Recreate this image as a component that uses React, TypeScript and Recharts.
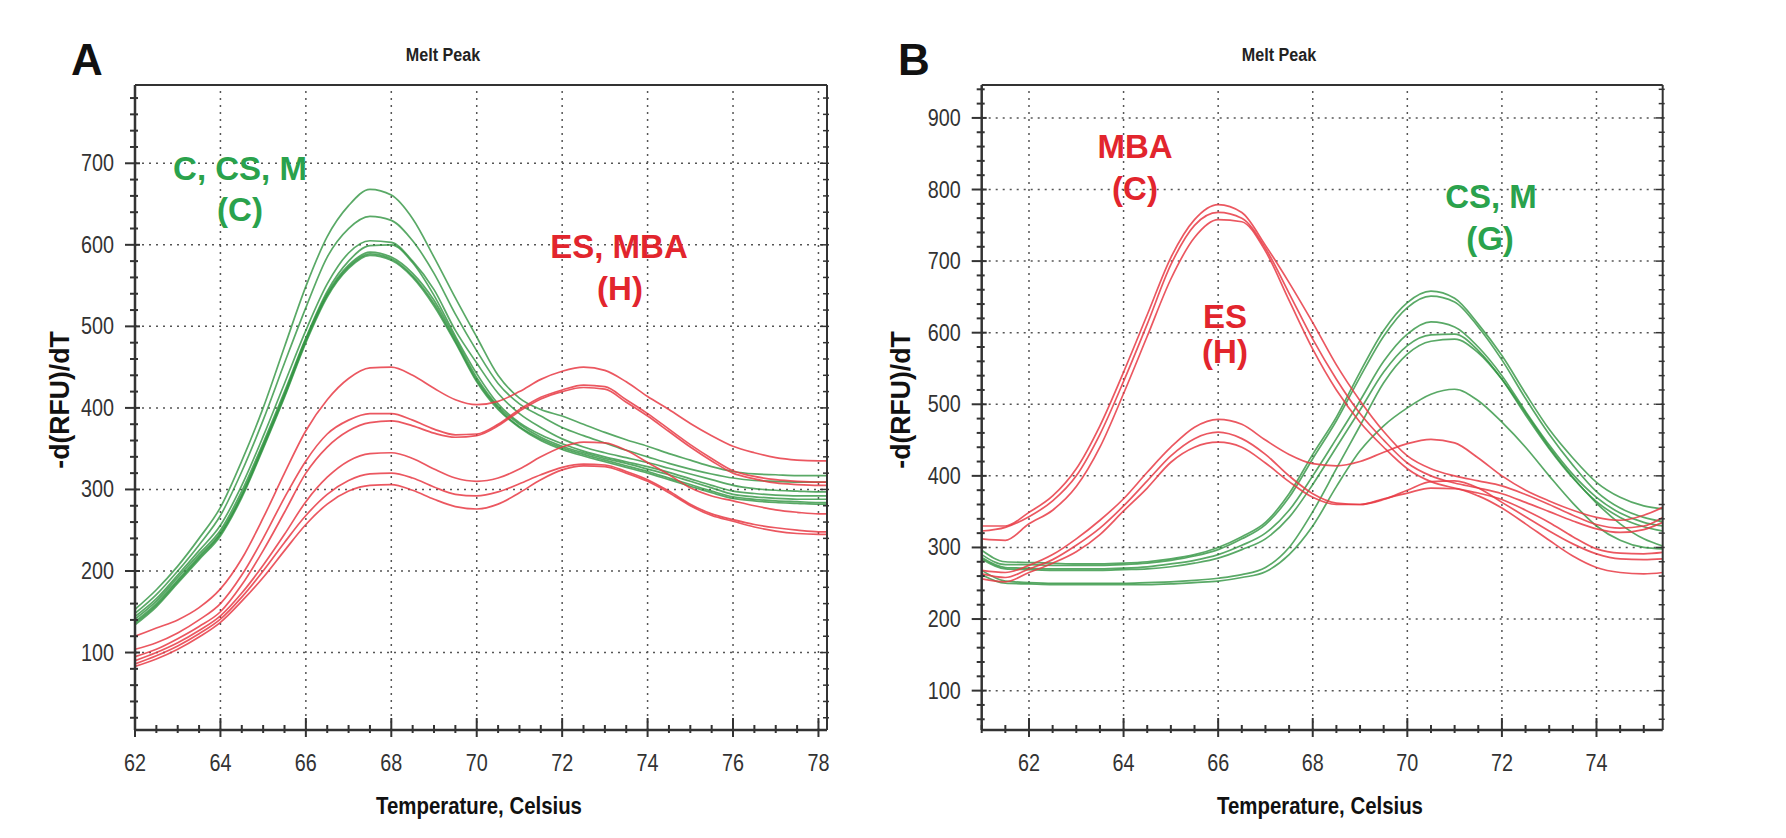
import React from 'react';
import { LineChart, Line, XAxis, YAxis, ReferenceLine } from 'recharts';

// ---- Panel A: temperatures (°C) ----
const tempsA = [62, 62.5, 63, 63.5, 64, 64.5, 65, 65.5, 66, 66.5, 67, 67.5, 68, 68.5, 69, 69.5, 70, 70.5, 71, 71.5, 72, 72.5, 73, 73.5, 74, 74.5, 75, 75.5, 76, 76.5, 77, 77.5, 78, 78.2];

// green traces (C, CS, M)
const greenA1 = [153, 177, 206, 240, 278, 335, 400, 475, 549, 610, 648, 668, 661, 632, 585, 535, 487, 440, 412, 398, 390, 380, 370, 361, 353, 344, 336, 328, 322, 319, 318, 317, 317, 317];
const greenA2 = [148, 171, 200, 232, 268, 322, 385, 455, 523, 585, 620, 635, 630, 605, 565, 515, 470, 430, 405, 390, 376, 366, 357, 348, 340, 332, 325, 319, 314, 311, 310, 309, 309, 309];
const greenA3 = [144, 166, 195, 225, 256, 305, 365, 430, 495, 552, 590, 605, 603, 580, 545, 495, 455, 418, 393, 376, 362, 352, 345, 339, 333, 326, 319, 312, 305, 301, 299, 298, 297, 297];
const greenA4 = [141, 163, 192, 221, 250, 298, 357, 420, 486, 543, 580, 599, 600, 578, 538, 488, 442, 405, 382, 367, 356, 347, 340, 334, 328, 321, 313, 305, 298, 295, 293, 292, 292, 292];
const greenA5 = [138, 160, 189, 218, 247, 294, 354, 417, 484, 540, 575, 591, 585, 565, 532, 485, 437, 402, 380, 364, 353, 345, 338, 332, 325, 318, 310, 302, 294, 291, 289, 288, 288, 288];
const greenA6 = [136, 158, 187, 216, 245, 292, 352, 415, 482, 538, 573, 589, 583, 562, 528, 482, 434, 400, 377, 362, 351, 343, 336, 329, 322, 314, 306, 298, 291, 288, 286, 285, 284, 284];
const greenA7 = [134, 156, 185, 214, 243, 290, 350, 413, 480, 536, 571, 587, 581, 560, 525, 480, 432, 398, 376, 360, 349, 341, 334, 327, 320, 312, 304, 296, 289, 286, 284, 283, 282, 282];

// red traces (ES, MBA)
const redA1 = [120, 130, 140, 155, 178, 215, 265, 320, 372, 410, 436, 449, 450, 440, 424, 410, 404, 408, 420, 435, 445, 450, 446, 432, 414, 398, 381, 366, 353, 345, 339, 336, 335, 335];
const redA2 = [104, 112, 124, 140, 160, 195, 240, 290, 335, 368, 385, 393, 393, 385, 374, 367, 368, 380, 398, 413, 422, 428, 426, 410, 393, 374, 355, 338, 323, 316, 312, 310, 309, 309];
const redA3 = [95, 104, 117, 132, 150, 183, 225, 272, 320, 352, 372, 382, 384, 378, 369, 364, 366, 378, 396, 411, 420, 425, 423, 407, 390, 371, 352, 335, 320, 313, 308, 306, 305, 305];
const redA4 = [90, 100, 112, 127, 145, 173, 207, 245, 285, 315, 335, 344, 345, 338, 325, 314, 310, 314, 325, 340, 352, 358, 357, 348, 333, 318, 302, 292, 286, 280, 275, 272, 270, 270];
const redA5 = [86, 96, 108, 123, 141, 168, 200, 235, 268, 294, 311, 319, 320, 314, 303, 294, 292, 297, 307, 318, 327, 331, 330, 322, 312, 298, 282, 270, 263, 257, 253, 250, 248, 248];
const redA6 = [83, 92, 104, 119, 137, 163, 192, 225, 257, 282, 298, 305, 306, 299, 288, 279, 276, 282, 296, 312, 324, 329, 328, 320, 310, 296, 280, 268, 261, 254, 249, 246, 245, 245];

// ---- Panel B: temperatures (°C) ----
const tempsB = [61, 61.5, 62, 62.5, 63, 63.5, 64, 64.5, 65, 65.5, 66, 66.5, 67, 67.5, 68, 68.5, 69, 69.5, 70, 70.5, 71, 71.5, 72, 72.5, 73, 73.5, 74, 74.5, 75, 75.4];

// green traces (CS, M)
const greenB1 = [296, 280, 279, 278, 277, 277, 278, 280, 284, 290, 300, 315, 335, 375, 430, 482, 545, 603, 642, 658, 648, 612, 568, 515, 465, 425, 391, 370, 358, 354];
const greenB2 = [290, 276, 276, 275, 275, 275, 276, 278, 282, 288, 297, 312, 332, 370, 424, 477, 538, 595, 635, 651, 643, 608, 562, 508, 458, 415, 378, 355, 342, 336];
const greenB3 = [286, 272, 271, 270, 270, 270, 271, 273, 277, 282, 290, 303, 320, 352, 400, 452, 505, 560, 598, 615, 608, 580, 540, 490, 443, 402, 370, 348, 335, 330];
const greenB4 = [284, 270, 269, 268, 268, 268, 269, 270, 273, 278, 285, 297, 312, 342, 388, 440, 492, 545, 582, 597, 598, 575, 535, 485, 438, 397, 364, 342, 329, 323];
const greenB5 = [268, 253, 251, 250, 250, 250, 250, 251, 252, 254, 257, 262, 272, 300, 350, 410, 470, 530, 570, 588, 591, 572, 535, 488, 440, 398, 362, 333, 312, 302];
const greenB6 = [262, 250, 249, 248, 248, 248, 248, 248, 249, 251, 253, 258, 266, 290, 330, 385, 435, 470, 495, 514, 521, 505, 475, 440, 400, 362, 330, 310, 300, 298];

// red traces: MBA (C) and ES (H)
const mbaB1 = [330, 330, 349, 372, 410, 470, 545, 625, 705, 758, 779, 768, 722, 670, 614, 555, 505, 462, 428, 410, 400, 393, 386, 374, 360, 345, 332, 327, 330, 342];
const mbaB2 = [323, 328, 343, 365, 400, 458, 532, 612, 695, 750, 768, 760, 718, 655, 591, 535, 487, 450, 418, 400, 390, 383, 375, 363, 350, 337, 326, 321, 325, 335];
const mbaB3 = [312, 310, 333, 352, 385, 440, 515, 595, 675, 733, 758, 755, 714, 645, 577, 520, 475, 440, 410, 392, 383, 376, 367, 352, 335, 315, 298, 292, 291, 293];
const esB1 = [268, 265, 275, 290, 312, 338, 368, 405, 440, 468, 479, 472, 450, 430, 417, 414, 420, 433, 445, 451, 446, 425, 400, 380, 365, 352, 342, 338, 345, 356];
const esB2 = [263, 258, 270, 283, 303, 327, 358, 393, 428, 452, 461, 452, 430, 400, 375, 362, 360, 367, 380, 392, 393, 383, 363, 343, 323, 305, 291, 284, 283, 284];
const esB3 = [256, 252, 265, 278, 294, 318, 351, 383, 419, 440, 447, 440, 418, 392, 370, 360, 360, 368, 376, 383, 382, 372, 355, 333, 310, 288, 272, 265, 263, 265];

// tick labels / grid
const xMajorA = [62, 64, 66, 68, 70, 72, 74, 76, 78];
const yMajorA = [100, 200, 300, 400, 500, 600, 700];
const xMajorB = [62, 64, 66, 68, 70, 72, 74];
const yMajorB = [100, 200, 300, 400, 500, 600, 700, 800, 900];

const GREEN = '#2f9440';
const RED = '#e83a44';
const LABEL_GREEN = '#2aa24c';
const LABEL_RED = '#e2252d';
const AXIS = '#333';
const SANS = "'Liberation Sans', Arial, Helvetica, sans-serif";

const steps = (from: number, to: number, step: number) => {
  const out: number[] = [];
  for (let v = from; v <= to + 1e-9; v += step) out.push(Math.round(v * 10) / 10);
  return out;
};

const buildRows = (temps: number[], green: number[][], red: number[][]) =>
  temps.map((t, i) => {
    const row: Record<string, number> = { t };
    green.forEach((s, k) => (row['g' + k] = s[i]));
    red.forEach((s, k) => (row['r' + k] = s[i]));
    return row;
  });

// Arial-like text squeezed horizontally (the original uses a narrow face)
type NTextProps = {
  x: number;
  y: number;
  size: number;
  squeeze?: number;
  anchor?: 'start' | 'middle' | 'end';
  bold?: boolean;
  fill?: string;
  rotate?: number;
  children: React.ReactNode;
};
const NText = ({ x, y, size, squeeze = 0.85, anchor = 'middle', bold = false, fill = '#222', rotate, children }: NTextProps) => (
  <text
    transform={`translate(${x} ${y})${rotate ? ` rotate(${rotate})` : ''} scale(${squeeze} 1)`}
    textAnchor={anchor}
    fontSize={size}
    fontWeight={bold ? 'bold' : 'normal'}
    fontFamily={SANS}
    fill={fill}
  >
    {children}
  </text>
);

type Frame = { left: number; right: number; top: number; bottom: number };

const leftTick = (f: Frame) => (p: any) => {
  const v = p.payload.value;
  const major = v % 100 === 0;
  return (
    <g>
      <line x1={f.left - (major ? 10 : 5)} x2={f.left + (major ? 5 : 3)} y1={p.y} y2={p.y} stroke={AXIS} strokeWidth={2} />
      {major && (
        <NText x={f.left - 21} y={p.y + 8} size={23} squeeze={0.86} anchor="end" fill="#333">
          {v}
        </NText>
      )}
    </g>
  );
};

const rightTick = (f: Frame) => (p: any) => {
  const major = p.payload.value % 100 === 0;
  return <line x1={f.right - (major ? 7 : 4)} x2={f.right + 2} y1={p.y} y2={p.y} stroke={AXIS} strokeWidth={1.5} />;
};

const bottomTick = (f: Frame) => (p: any) => {
  const v = p.payload.value;
  const major = v % 2 === 0;
  return (
    <g>
      <line x1={p.x} x2={p.x} y1={f.bottom - (major ? 12 : 5)} y2={f.bottom + (major ? 7 : 3)} stroke={AXIS} strokeWidth={2} />
      {major && (
        <NText x={p.x} y={f.bottom + 41} size={23} squeeze={0.86} fill="#333">
          {v}
        </NText>
      )}
    </g>
  );
};

const topTick = (f: Frame) => (p: any) => {
  const major = p.payload.value % 2 === 0;
  return <line x1={p.x} x2={p.x} y1={f.top - 1} y2={f.top + (major ? 7 : 5)} stroke={AXIS} strokeWidth={1.5} />;
};

type PanelProps = {
  rows: Record<string, number>[];
  nGreen: number;
  nRed: number;
  xDomain: [number, number];
  yDomain: [number, number];
  xTicks: number[];
  yTicks: number[];
  gridX: number[];
  gridY: number[];
  frame: Frame;
  margin: { top: number; right: number; bottom: number; left: number };
};

const MeltPanel: React.FC<PanelProps> = ({ rows, nGreen, nRed, xDomain, yDomain, xTicks, yTicks, gridX, gridY, frame, margin }) => (
  <LineChart width={893} height={838} data={rows} margin={margin}>
    <XAxis
      dataKey="t"
      type="number"
      domain={xDomain}
      allowDataOverflow
      ticks={xTicks}
      interval={0}
      height={50}
      tick={bottomTick(frame)}
      tickLine={false}
      axisLine={{ stroke: AXIS, strokeWidth: 2.5 }}
    />
    <XAxis
      xAxisId="top"
      orientation="top"
      type="number"
      domain={xDomain}
      allowDataOverflow
      ticks={xTicks}
      interval={0}
      height={10}
      tick={topTick(frame)}
      tickLine={false}
      axisLine={{ stroke: AXIS, strokeWidth: 2 }}
    />
    <YAxis
      type="number"
      domain={yDomain}
      allowDataOverflow
      ticks={yTicks}
      interval={0}
      width={60}
      tick={leftTick(frame)}
      tickLine={false}
      axisLine={{ stroke: AXIS, strokeWidth: 2.5 }}
    />
    <YAxis
      yAxisId="right"
      orientation="right"
      type="number"
      domain={yDomain}
      allowDataOverflow
      ticks={yTicks}
      interval={0}
      width={10}
      tick={rightTick(frame)}
      tickLine={false}
      axisLine={{ stroke: AXIS, strokeWidth: 2 }}
    />
    {gridY.map((v) => (
      <ReferenceLine key={'gy' + v} y={v} stroke="#555" strokeWidth={1.5} strokeDasharray="2 5" />
    ))}
    {gridX.map((v) => (
      <ReferenceLine key={'gx' + v} x={v} stroke="#555" strokeWidth={1.5} strokeDasharray="2 5" />
    ))}
    {Array.from({ length: nGreen }, (_, k) => (
      <Line key={'g' + k} dataKey={'g' + k} type="monotone" stroke={GREEN} strokeOpacity={0.8} strokeWidth={1.7} dot={false} isAnimationActive={false} />
    ))}
    {Array.from({ length: nRed }, (_, k) => (
      <Line key={'r' + k} dataKey={'r' + k} type="monotone" stroke={RED} strokeOpacity={0.85} strokeWidth={1.7} dot={false} isAnimationActive={false} />
    ))}
  </LineChart>
);

const rowsA = buildRows(tempsA, [greenA1, greenA2, greenA3, greenA4, greenA5, greenA6, greenA7], [redA1, redA2, redA3, redA4, redA5, redA6]);
const rowsB = buildRows(tempsB, [greenB1, greenB2, greenB3, greenB4, greenB5, greenB6], [mbaB1, mbaB2, mbaB3, esB1, esB2, esB3]);

const Note = ({ x, y, color, children }: { x: number; y: number; color: string; children: React.ReactNode }) => (
  <text x={x} y={y} textAnchor="middle" fontSize={33} fontWeight="bold" fontFamily={SANS} fill={color}>
    {children}
  </text>
);

const App: React.FC = () => (
  <div style={{ position: 'absolute', left: 0, top: 0, width: 1786, height: 838, background: '#fff', overflow: 'hidden' }}>
    <div style={{ position: 'absolute', left: 0, top: 0 }}>
      <MeltPanel
        rows={rowsA}
        nGreen={7}
        nRed={6}
        xDomain={[62, 78.2]}
        yDomain={[5, 796]}
        xTicks={steps(62, 78, 0.5)}
        yTicks={steps(20, 780, 20)}
        gridX={xMajorA.slice(1)}
        gridY={yMajorA}
        frame={{ left: 135, right: 827, top: 85, bottom: 730 }}
        margin={{ top: 75, right: 56, bottom: 58, left: 75 }}
      />
    </div>
    <div style={{ position: 'absolute', left: 893, top: 0 }}>
      <MeltPanel
        rows={rowsB}
        nGreen={6}
        nRed={6}
        xDomain={[61, 75.4]}
        yDomain={[45, 946]}
        xTicks={steps(61, 75, 0.5)}
        yTicks={steps(60, 940, 20)}
        gridX={xMajorB}
        gridY={yMajorB}
        frame={{ left: 88.7, right: 769.7, top: 85, bottom: 730 }}
        margin={{ top: 75, right: 113.3, bottom: 58, left: 28.7 }}
      />
    </div>
    <svg width={1786} height={838} style={{ position: 'absolute', left: 0, top: 0, pointerEvents: 'none' }}>
      <text x={87} y={75} textAnchor="middle" fontSize={44} fontWeight="bold" fontFamily={SANS} fill="#111">A</text>
      <text x={914} y={75} textAnchor="middle" fontSize={44} fontWeight="bold" fontFamily={SANS} fill="#111">B</text>
      <NText x={443} y={61} size={19} squeeze={0.85} bold>Melt Peak</NText>
      <NText x={1279} y={61} size={19} squeeze={0.85} bold>Melt Peak</NText>
      <NText x={479} y={814} size={24} squeeze={0.85} bold fill="#111">Temperature, Celsius</NText>
      <NText x={1320} y={814} size={24} squeeze={0.85} bold fill="#111">Temperature, Celsius</NText>
      <NText x={69} y={400} size={28} squeeze={0.95} bold rotate={-90} fill="#111">-d(RFU)/dT</NText>
      <NText x={910} y={400} size={28} squeeze={0.95} bold rotate={-90} fill="#111">-d(RFU)/dT</NText>

      <Note x={240} y={180} color={LABEL_GREEN}>C, CS, M</Note>
      <Note x={240} y={221} color={LABEL_GREEN}>(C)</Note>
      <Note x={619} y={258} color={LABEL_RED}>ES, MBA</Note>
      <Note x={620} y={300} color={LABEL_RED}>(H)</Note>

      <Note x={1135} y={158} color={LABEL_RED}>MBA</Note>
      <Note x={1135} y={200} color={LABEL_RED}>(C)</Note>
      <Note x={1225} y={328} color={LABEL_RED}>ES</Note>
      <Note x={1225} y={363} color={LABEL_RED}>(H)</Note>
      <Note x={1491} y={208} color={LABEL_GREEN}>CS, M</Note>
      <Note x={1490} y={250} color={LABEL_GREEN}>(G)</Note>
    </svg>
  </div>
);

export default App;
